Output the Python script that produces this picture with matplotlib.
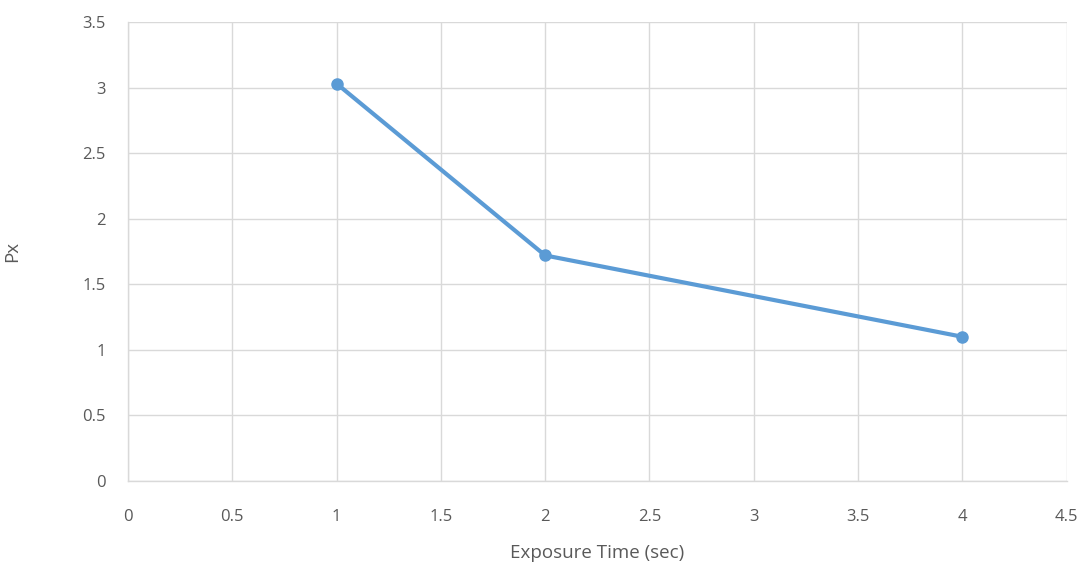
import matplotlib
matplotlib.use("Agg")
import matplotlib.pyplot as plt

exposure_time = [1, 2, 4]
px_values = [3.03, 1.72, 1.10]
x_ticks = [0, 0.5, 1, 1.5, 2, 2.5, 3, 3.5, 4, 4.5]
y_ticks = [0, 0.5, 1, 1.5, 2, 2.5, 3, 3.5]

plt.rcParams['font.family'] = ['Open Sans', 'DejaVu Sans']
text_col = '#595959'
grid_col = '#d9d9d9'
line_col = '#5b9bd5'

fig = plt.figure(figsize=(10.85, 5.63), dpi=100)
ax = fig.add_axes([0.118, 0.1456, 0.865, 0.8154])

ax.plot(exposure_time, px_values, color=line_col, lw=3, marker='o',
        markersize=8, zorder=3, solid_capstyle='round')

ax.set_xlim(0, 4.5)
ax.set_ylim(0, 3.5)
ax.set_xticks(x_ticks)
ax.set_yticks(y_ticks)
ax.set_xticklabels([f"{v:g}" for v in x_ticks])
ax.set_yticklabels([f"{v:g}" for v in y_ticks])
ax.grid(True, color=grid_col, lw=1)
ax.set_axisbelow(True)
for s in ['top', 'right']:
    ax.spines[s].set_visible(False)
for s in ['left', 'bottom']:
    ax.spines[s].set_color(grid_col)
    ax.spines[s].set_linewidth(1)
ax.tick_params(length=0, colors=text_col, labelsize=12)
ax.tick_params(axis='x', pad=20)
ax.tick_params(axis='y', pad=16)

ax.set_xlabel('Exposure Time (sec)', color=text_col, fontsize=13.5, labelpad=14)
ax.set_ylabel('Px', color=text_col, fontsize=13.5, labelpad=44)

fig.savefig('out.png', dpi=100)
